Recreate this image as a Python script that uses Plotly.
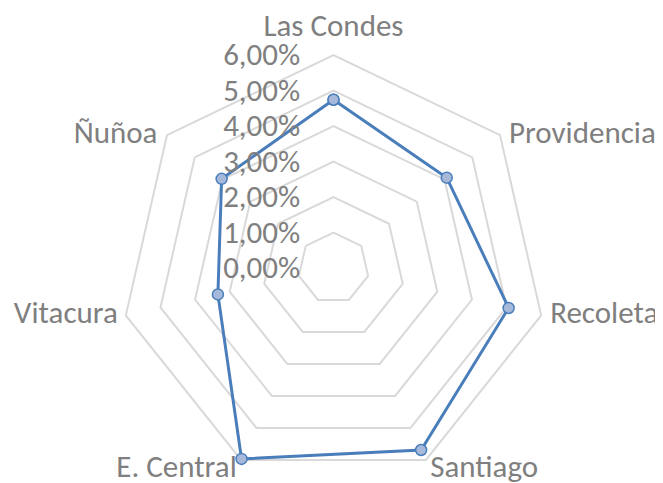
import plotly.graph_objects as go

categories = ["Las Condes", "Providencia", "Recoleta", "Santiago", "E. Central", "Vitacura", "Ñuñoa"]
values = [0.0474, 0.0408, 0.0506, 0.0569, 0.0597, 0.0334, 0.0403]
tick_vals = [0, 0.01, 0.02, 0.03, 0.04, 0.05, 0.06]
tick_text = ["0,00%", "1,00%", "2,00%", "3,00%", "4,00%", "5,00%", "6,00%"]
axis_max = 0.06
range_max = 0.0628  # a little room outside the 6% ring for the bottom labels

FONT = "Carlito, Calibri, Lato, sans-serif"
GRAY = "#7f7f7f"

# category label placement (style only)
label_pos = ["top center", "middle right", "middle right", "middle right",
             "middle left", "middle left", "middle left"]
label_pad = [16, 12.8, 12.8, 0, 0, 11.2, 13.6]
label_r = [axis_max, axis_max, axis_max, range_max, range_max, axis_max, axis_max]

fig = go.Figure()
fig.add_trace(go.Scatterpolar(
    r=values + values[:1],
    theta=categories + categories[:1],
    mode="lines+markers",
    line=dict(color="#4A7EBB", width=3),
    marker=dict(size=11, color="#A7B9DB", line=dict(color="#4A7EBB", width=1.5)),
    showlegend=False,
    hoverinfo="skip",
))
fig.add_trace(go.Scatterpolar(
    r=label_r,
    theta=categories,
    mode="markers+text",
    text=categories,
    textposition=label_pos,
    textfont=dict(family=FONT, color=GRAY, size=31),
    marker=dict(size=label_pad, opacity=0),
    cliponaxis=False,
    showlegend=False,
    hoverinfo="skip",
))

W, H = 663, 483
OFF = 8  # page body margin
R6 = 213  # pixel radius of the 6% ring
cx, cy = 333.5 - OFF, 268 - OFF
R = R6 * range_max / axis_max
fig.update_layout(
    width=W, height=H,
    margin=dict(l=0, r=0, t=0, b=0),
    paper_bgcolor="white",
    plot_bgcolor="white",
    font=dict(family=FONT, color=GRAY, size=31),
    polar=dict(
        domain=dict(x=[(cx - R) / W, (cx + R) / W],
                    y=[max(0, (H - cy - R) / H), min(1, (H - cy + R) / H)]),
        bgcolor="white",
        gridshape="linear",
        radialaxis=dict(
            range=[0, range_max],
            tickvals=tick_vals,
            ticktext=tick_text,
            angle=90,
            tickangle=90,
            side="counterclockwise",
            showline=False,
            gridcolor="#d9d9d9",
            gridwidth=1.5,
            ticks="outside",
            ticklen=22,
            tickcolor="rgba(0,0,0,0)",
            tickfont=dict(family=FONT, color=GRAY, size=31),
        ),
        angularaxis=dict(
            direction="clockwise",
            rotation=90,
            showgrid=False,
            showline=False,
            ticks="",
            showticklabels=False,
        ),
    ),
)

fig.write_html("out.html")
